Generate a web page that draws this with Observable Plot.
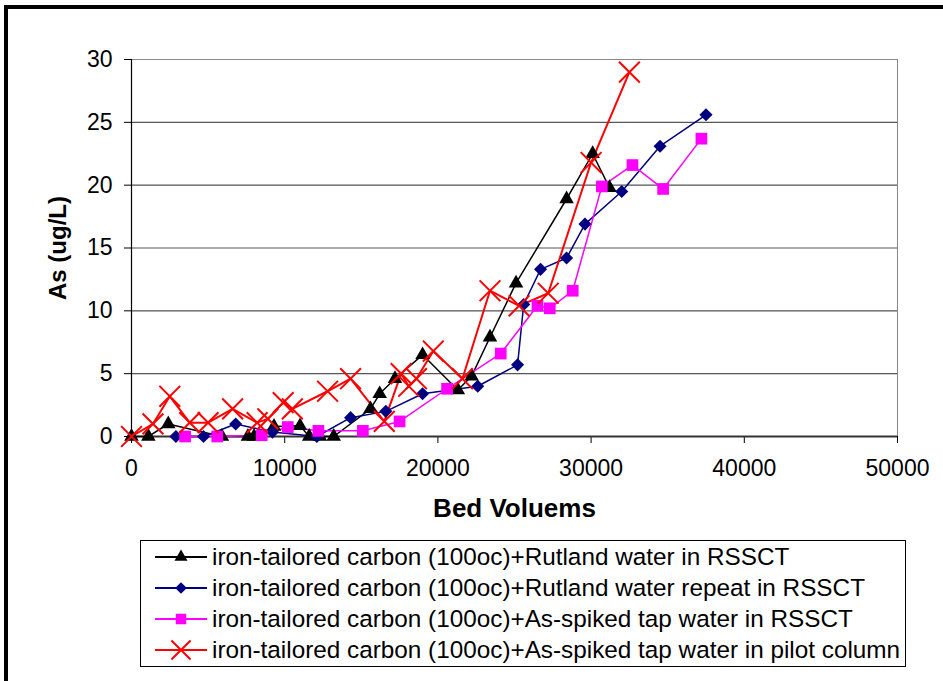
<!DOCTYPE html>
<html>
<head>
<meta charset="utf-8">
<script src="https://cdn.jsdelivr.net/npm/d3@7"></script>
<script src="https://cdn.jsdelivr.net/npm/@observablehq/plot@0.6"></script>
<style>
  body { margin: 0; background: #fff; }
  #wrap { position: relative; width: 943px; height: 681px; overflow: hidden; background: #fff;
          font-family: Arial, "Liberation Sans", sans-serif; }
  #border { position: absolute; left: 4px; top: 5px; width: 960px; height: 700px;
            border-top: 4px solid #000; border-left: 4px solid #000; }
  #chart { position: absolute; left: 0; top: 0; }
  #legend { position: absolute; left: 140px; top: 540px; width: 766px; height: 127px;
            border: 1px solid #000; box-sizing: border-box; background: #fff; }
  .row { position: absolute; left: 10px; height: 30px; display: flex; align-items: center;
         font-size: 24.3px; color: #000; white-space: nowrap; }
  .row svg { margin-right: 3px; }
</style>
</head>
<body>
<div id="wrap">
  <div id="border"></div>
  <div id="chart"></div>
  <div id="legend"></div>
</div>
<script>
// ---- data ----
const seriesNames = [
  "iron-tailored carbon (100oc)+Rutland water in RSSCT",
  "iron-tailored carbon (100oc)+Rutland water repeat in RSSCT",
  "iron-tailored carbon (100oc)+As-spiked tap water in RSSCT",
  "iron-tailored carbon (100oc)+As-spiked tap water in pilot column"
];
const xTicks = [0, 10000, 20000, 30000, 40000, 50000];
const yTicks = [0, 5, 10, 15, 20, 25, 30];

const bvRutland = [0, 1100, 2400, 5900, 7600, 8000, 9300, 11000, 11600, 12300, 13200, 15600, 16200, 17200, 19000, 21300, 22200, 23400, 25100, 28400, 30100, 31200];
const asRutland = [0, 0, 1.0, 0, 0, 0, 0.8, 0.85, 0, 0, 0, 2.2, 3.4, 4.6, 6.5, 3.7, 4.8, 7.9, 12.2, 18.9, 22.5, 19.8];

const bvRepeat = [2900, 4700, 6800, 9200, 12100, 14300, 16600, 19000, 22600, 25200, 25600, 26700, 28400, 29600, 32000, 34500, 37500];
const asRepeat = [0, 0, 1.0, 0.35, 0, 1.5, 2.0, 3.4, 4.0, 5.7, 10.5, 13.3, 14.2, 16.9, 19.5, 23.1, 25.6];

const bvTap = [3500, 5600, 8500, 10200, 12200, 15100, 17500, 20600, 24100, 26500, 27300, 28800, 30700, 32700, 34700, 37200];
const asTap = [0, 0, 0.1, 0.75, 0.45, 0.45, 1.2, 3.8, 6.6, 10.4, 10.2, 11.6, 19.9, 21.6, 19.7, 23.7];

const bvPilot = [0, 1400, 2500, 3800, 5000, 6600, 8200, 8900, 9900, 10500, 12800, 14300, 16500, 17600, 18100, 18600, 19700, 21600, 23400, 25300, 27200, 30000, 32500];
const asPilot = [0, 1.0, 3.2, 1.1, 1.1, 2.2, 1.1, 1.4, 2.7, 2.2, 3.6, 4.6, 1.2, 5.0, 4.0, 4.6, 6.8, 4.6, 11.6, 10.4, 11.4, 21.8, 29.0];

// ---- build ----
const toRows = (xs, ys) => xs.map((x, i) => ({x, y: ys[i]}));
const sRutland = toRows(bvRutland, asRutland);
const sRepeat = toRows(bvRepeat, asRepeat);
const sTap = toRows(bvTap, asTap);
const sPilot = toRows(bvPilot, asPilot);

const styles = [
  {color: "#000000", symbol: "triangle", r: 5.4, fill: true, sw: 1.5},
  {color: "#000080", symbol: "diamond2", r: 5.9, fill: true, sw: 1.5},
  {color: "#FF00FF", symbol: "square", r: 6.6, fill: true, sw: 1.5},
  {color: "#FF0000", symbol: "times", r: 9.5, fill: false, sw: 2}
];
const sets = [sRutland, sRepeat, sTap, sPilot];

const marks = [
  Plot.ruleY(yTicks.slice(1), {stroke: "#555", strokeWidth: 1.2}),
  Plot.frame({stroke: "#888", strokeWidth: 1}),
  Plot.axisY({ticks: yTicks, tickSize: 7, tickPadding: 12, label: null, stroke: "#000", fontSize: 23}),
  Plot.axisX({ticks: xTicks, tickSize: 7, tickPadding: 16, label: null, tickFormat: d => String(d), stroke: "#000", fontSize: 23}),
  Plot.ruleX([0], {stroke: "#000", strokeWidth: 1.2}),
  Plot.ruleY([0], {stroke: "#333", strokeWidth: 2}),
  Plot.text(["Bed Voluems"], {frameAnchor: "bottom", dy: 80, fontWeight: "bold", fontSize: 26, fill: "#000"}),
  Plot.text(["As (ug/L)"], {frameAnchor: "left", textAnchor: "middle", rotate: -90, dx: -73, fontWeight: "bold", fontSize: 24, fill: "#000"})
];
sets.forEach((data, i) => {
  const s = styles[i];
  marks.push(Plot.line(data, {x: "x", y: "y", stroke: s.color, strokeWidth: s.sw}));
});
sets.forEach((data, i) => {
  const s = styles[i];
  marks.push(Plot.dot(data, {
    x: "x", y: "y", symbol: () => s.symbol, r: s.r,
    fill: s.fill ? s.color : "none",
    stroke: s.fill ? "none" : s.color,
    strokeWidth: s.fill ? 0 : 2
  }));
});

const chart = Plot.plot({
  width: 943,
  height: 540,
  marginLeft: 131,
  marginRight: 46,
  marginTop: 59,
  marginBottom: 104,
  style: {fontFamily: "Arial, 'Liberation Sans', sans-serif", fontSize: "23px", color: "#000", background: "transparent", overflow: "visible"},
  x: {domain: [0, 50000]},
  y: {domain: [0, 30]},
  symbol: {type: "identity"},
  marks
});
document.getElementById("chart").appendChild(chart);

// ---- legend ----
const legend = document.getElementById("legend");
const rowTops = [1, 32, 63, 94];
seriesNames.forEach((name, i) => {
  const s = styles[i];
  const row = document.createElement("div");
  row.className = "row";
  row.style.top = rowTops[i] + "px";
  const svg = d3.create("svg").attr("width", 58).attr("height", 30);
  svg.append("line").attr("x1", 4).attr("x2", 56).attr("y1", 15).attr("y2", 15)
    .attr("stroke", s.color).attr("stroke-width", 2);
  const symMap = {triangle: d3.symbolTriangle, diamond2: d3.symbolDiamond2, square: d3.symbolSquare, times: d3.symbolTimes};
  const sz = Math.PI * s.r * s.r * (s.symbol === "times" ? 0.85 : 0.8);
  svg.append("path").attr("transform", "translate(30,15)")
    .attr("d", d3.symbol(symMap[s.symbol], sz)())
    .attr("fill", s.fill ? s.color : "none")
    .attr("stroke", s.fill ? "none" : s.color)
    .attr("stroke-width", 2);
  row.appendChild(svg.node());
  const span = document.createElement("span");
  span.textContent = name;
  row.appendChild(span);
  legend.appendChild(row);
});
</script>
</body>
</html>
